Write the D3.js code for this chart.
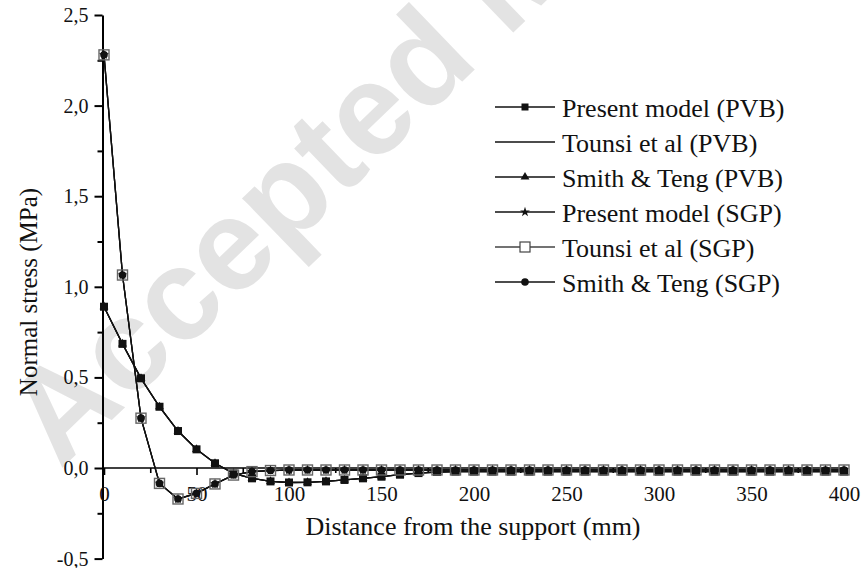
<!DOCTYPE html>
<html>
<head>
<meta charset="utf-8">
<script src="https://cdn.jsdelivr.net/npm/d3@7"></script>
<style>
  body { margin: 0; background: #fff; }
  svg { display: block; font-family: "Liberation Serif", "Times New Roman", serif; }
</style>
</head>
<body>
<div id="chart"></div>
<script>
// distance from the support (mm)
const distance = [0, 10, 20, 30, 40, 50, 60, 70, 80, 90, 100, 110, 120, 130, 140, 150, 160, 170, 180, 190,
    200, 210, 220, 230, 240, 250, 260, 270, 280, 290, 300, 310, 320, 330, 340, 350, 360, 370, 380, 390, 400];

// PVB interlayer
const presentPVB = [0.89, 0.685, 0.495, 0.338, 0.204, 0.103, 0.026, -0.03, -0.057, -0.074, -0.08, -0.079, -0.074, -0.066, -0.057, -0.048, -0.037, -0.028, -0.022, -0.02,
    -0.02, -0.02, -0.02, -0.02, -0.02, -0.02, -0.02, -0.02, -0.02, -0.02, -0.02, -0.02, -0.02, -0.02, -0.02, -0.02, -0.02, -0.02, -0.02, -0.02, -0.02];
const tounsiPVB = [0.89, 0.685, 0.495, 0.338, 0.204, 0.103, 0.026, -0.03, -0.057, -0.074, -0.08, -0.079, -0.074, -0.066, -0.057, -0.048, -0.037, -0.028, -0.022, -0.02,
    -0.02, -0.02, -0.02, -0.02, -0.02, -0.02, -0.02, -0.02, -0.02, -0.02, -0.02, -0.02, -0.02, -0.02, -0.02, -0.02, -0.02, -0.02, -0.02, -0.02, -0.02];
const smithPVB = [0.89, 0.685, 0.495, 0.338, 0.204, 0.103, 0.026, -0.03, -0.057, -0.074, -0.08, -0.079, -0.074, -0.066, -0.057, -0.048, -0.037, -0.028, -0.022, -0.02,
    -0.02, -0.02, -0.02, -0.02, -0.02, -0.02, -0.02, -0.02, -0.02, -0.02, -0.02, -0.02, -0.02, -0.02, -0.02, -0.02, -0.02, -0.02, -0.02, -0.02, -0.02];

// SGP interlayer
const presentSGP = [2.28, 1.065, 0.275, -0.085, -0.171, -0.14, -0.088, -0.039, -0.02, -0.014, -0.011, -0.011, -0.011, -0.011, -0.011, -0.011, -0.011, -0.011, -0.011, -0.011,
    -0.011, -0.011, -0.011, -0.011, -0.011, -0.011, -0.011, -0.011, -0.011, -0.011, -0.011, -0.011, -0.011, -0.011, -0.011, -0.011, -0.011, -0.011, -0.011, -0.011, -0.011];
const tounsiSGP = [2.28, 1.065, 0.275, -0.085, -0.171, -0.14, -0.088, -0.039, -0.02, -0.014, -0.011, -0.011, -0.011, -0.011, -0.011, -0.011, -0.011, -0.011, -0.011, -0.011,
    -0.011, -0.011, -0.011, -0.011, -0.011, -0.011, -0.011, -0.011, -0.011, -0.011, -0.011, -0.011, -0.011, -0.011, -0.011, -0.011, -0.011, -0.011, -0.011, -0.011, -0.011];
const smithSGP = [2.28, 1.065, 0.275, -0.085, -0.171, -0.14, -0.088, -0.039, -0.02, -0.014, -0.011, -0.011, -0.011, -0.011, -0.011, -0.011, -0.011, -0.011, -0.011, -0.011,
    -0.011, -0.011, -0.011, -0.011, -0.011, -0.011, -0.011, -0.011, -0.011, -0.011, -0.011, -0.011, -0.011, -0.011, -0.011, -0.011, -0.011, -0.011, -0.011, -0.011, -0.011];

const seriesNames = ["Present model (PVB)", "Tounsi et al (PVB)", "Smith & Teng (PVB)",
    "Present model (SGP)", "Tounsi et al (SGP)", "Smith & Teng (SGP)"];
const xTicks = [0, 50, 100, 150, 200, 250, 300, 350, 400];
const yTicks = [-0.5, 0, 0.5, 1.0, 1.5, 2.0, 2.5];

const width = 866, height = 568;

let svg = d3.select("#chart").append("svg")
    .attr("width", width)
    .attr("height", height);

// watermark behind everything
svg.append("text")
    .text("Accepted Manuscript")
    .attr("transform", "translate(60,470) rotate(-44)")
    .attr("font-family", "Liberation Sans, Arial, sans-serif")
    .attr("font-weight", "bold")
    .attr("font-size", 130)
    .attr("fill", "#e3e3e3");

let x = d3.scaleLinear().domain([0, 400]).range([104, 844]);
let y = d3.scaleLinear().domain([-0.5, 2.5]).range([558.6, 15]);
const axisX = 102.5;

// y axis
let yAxis = svg.append("g")
    .attr("transform", "translate(" + axisX + ",0)")
    .call(d3.axisLeft(y).tickValues(yTicks).tickSize(8).tickSizeOuter(0).tickPadding(6)
        .tickFormat(d => d3.format(".1f")(d).replace(".", ",").replace("−", "-")));
yAxis.select(".domain").attr("stroke-width", 2);
yAxis.selectAll(".tick line").attr("stroke-width", 2);
yAxis.selectAll(".tick text").attr("font-size", 20).attr("fill", "#111")
    .attr("font-family", "Liberation Serif, serif");

svg.append("g")
    .attr("transform", "translate(" + axisX + ",0)")
    .call(d3.axisLeft(y).tickValues([-0.25, 0.25, 0.75, 1.25, 1.75, 2.25]).tickSize(5).tickFormat(""))
    .call(g => g.select(".domain").remove())
    .selectAll(".tick line").attr("stroke-width", 2);

// x axis sits on y = 0
let xAxis = svg.append("g")
    .attr("transform", "translate(0," + y(0) + ")")
    .call(d3.axisBottom(x).tickValues(xTicks).tickSize(7).tickSizeOuter(0).tickPadding(11));
xAxis.select(".domain").attr("d", "M" + axisX + ",0H" + (x(400) + 3)).attr("stroke-width", 1.6);
xAxis.selectAll(".tick line").attr("stroke-width", 1.6);
xAxis.selectAll(".tick text").attr("font-size", 21).attr("fill", "#111")
    .attr("font-family", "Liberation Serif, serif");

svg.append("g")
    .attr("transform", "translate(0," + y(0) + ")")
    .call(d3.axisBottom(x).tickValues([25, 75, 125, 175, 225, 275, 325, 375]).tickSize(5).tickFormat(""))
    .call(g => g.select(".domain").remove())
    .selectAll(".tick line").attr("stroke-width", 1.6);

// axis titles
svg.append("text")
    .text("Normal stress (MPa)")
    .attr("transform", "translate(28,292) rotate(-90)")
    .attr("text-anchor", "middle")
    .attr("dominant-baseline", "central")
    .attr("font-size", 25)
    .attr("fill", "#111");

svg.append("text")
    .text("Distance from the support (mm)")
    .attr("x", 473)
    .attr("y", 535)
    .attr("text-anchor", "middle")
    .attr("font-size", 26)
    .attr("fill", "#111");

// lines
const line = d3.line()
    .x((d, i) => x(distance[i]))
    .y(d => y(d));

const allSeries = [presentPVB, tounsiPVB, smithPVB, presentSGP, tounsiSGP, smithSGP];
allSeries.forEach(s => {
    svg.append("path")
        .attr("d", line(s))
        .attr("fill", "none")
        .attr("stroke", "#111")
        .attr("stroke-width", 1.3);
});

// marker drawers
const sym = (type, size) => d3.symbol().type(type).size(size)();
const markers = [
    { name: "square", draw: g => g.append("rect").attr("x", -4).attr("y", -4).attr("width", 8).attr("height", 8).attr("fill", "#111") },
    null,
    { name: "triangle", draw: g => g.append("path").attr("d", sym(d3.symbolTriangle, 34)).attr("fill", "#111") },
    { name: "star", draw: g => g.append("path").attr("d", sym(d3.symbolStar, 30)).attr("fill", "#111") },
    { name: "open", draw: g => g.append("rect").attr("x", -5).attr("y", -5).attr("width", 10).attr("height", 10).attr("fill", "none").attr("stroke", "#666").attr("stroke-width", 1.4) },
    { name: "circle", draw: g => g.append("circle").attr("r", 3.8).attr("fill", "#111") }
];

// draw order: PVB triangles, PVB squares, SGP open squares, SGP stars, SGP circles
[2, 0, 4, 3, 5].forEach(k => {
    let pts = svg.append("g").selectAll("g")
        .data(allSeries[k])
        .enter().append("g")
        .attr("transform", (d, i) => "translate(" + x(distance[i]) + "," + y(d) + ")");
    pts.each(function () { markers[k].draw(d3.select(this)); });
});

// legend
let legend = svg.append("g");
seriesNames.forEach((name, i) => {
    let row = legend.append("g").attr("transform", "translate(0," + (107 + i * 35) + ")");
    row.append("line")
        .attr("x1", 495).attr("x2", 555)
        .attr("stroke", i == 4 ? "#444" : "#111")
        .attr("stroke-width", 1.3);
    if (markers[i]) {
        let m = row.append("g").attr("transform", "translate(525,0)");
        if (i == 4) {
            m.append("rect").attr("x", -5).attr("y", -5).attr("width", 10).attr("height", 10)
                .attr("fill", "#fff").attr("stroke", "#444").attr("stroke-width", 1.2);
        } else if (i == 0) {
            m.append("rect").attr("x", -3.5).attr("y", -3.5).attr("width", 7).attr("height", 7).attr("fill", "#111");
        } else {
            markers[i].draw(m);
        }
    }
    row.append("text")
        .text(name)
        .attr("x", 562)
        .attr("y", 1)
        .attr("dominant-baseline", "central")
        .attr("font-size", 26)
        .attr("fill", "#111");
});
</script>
</body>
</html>
